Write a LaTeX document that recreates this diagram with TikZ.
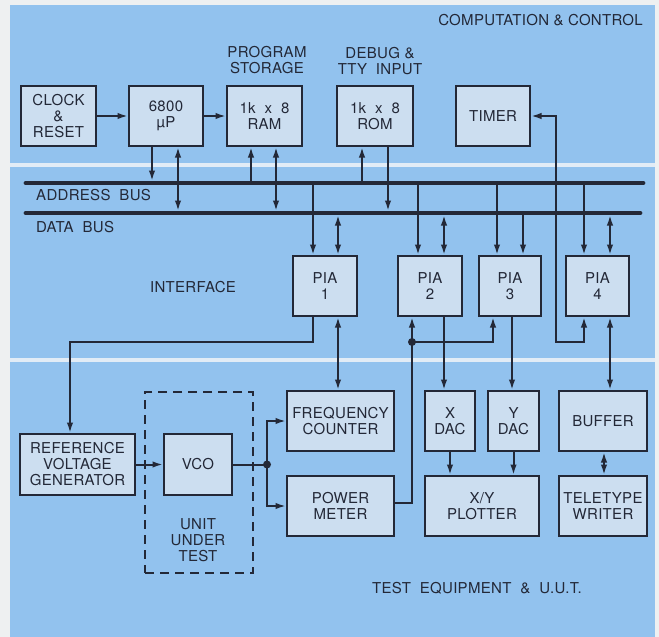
\documentclass[tikz,border=0pt]{standalone}
\usepackage{fontspec}
\setmainfont[LetterSpace=2]{TeX Gyre Heros}
\usetikzlibrary{arrows.meta,calc}
\definecolor{outer}{RGB}{238,240,241}
\definecolor{bgblue}{RGB}{146,194,238}
\definecolor{boxfill}{RGB}{204,222,240}
\definecolor{sepline}{RGB}{226,236,246}
\definecolor{ink}{RGB}{35,40,55}
\newcommand\lblfont{\fontsize{15}{16}\selectfont}
\begin{document}
\begin{tikzpicture}[x=1pt,y=-1pt,
  box/.style={draw=ink, fill=boxfill, line width=2pt, inner sep=0pt, align=center, font=\lblfont, text=ink},
  ln/.style={draw=ink, line width=2pt},
  arr/.style={ln, -{Latex[length=10.5pt,width=6.5pt]}},
  darr/.style={ln, {Latex[length=10.5pt,width=6.5pt]}-{Latex[length=10.5pt,width=6.5pt]}},
  bus/.style={draw=ink, line width=4.8pt, line cap=round},
  lbl/.style={font=\lblfont, text=ink, inner sep=0pt, align=center},
  dot/.style={circle, fill=ink, inner sep=0pt, minimum size=8pt}
]
\useasboundingbox (0,0) rectangle (659,637);
\fill[outer] (0,0) rectangle (659,637);
\fill[bgblue] (10,5) rectangle (655,637);
\fill[sepline] (10,163) rectangle (655,167);
\fill[sepline] (10,358) rectangle (655,362);

% x positions of connectors
\coordinate (cA) at (152,0);
\coordinate (cD) at (178,0);
\coordinate (rA) at (251,0);
\coordinate (rD) at (276,0);
\coordinate (oA) at (362,0);
\coordinate (oD) at (388,0);
\coordinate (p1A) at (313,0);
\coordinate (p1D) at (338,0);
\coordinate (p2A) at (418,0);
\coordinate (p2D) at (444,0);
\coordinate (p2B) at (412,0);
\coordinate (p3A) at (497,0);
\coordinate (p3D) at (523,0);
\coordinate (p3B) at (493,0);
\coordinate (p3Y) at (512,0);
\coordinate (p4A) at (584,0);
\coordinate (p4D) at (610,0);
\coordinate (tX) at (556,0);
\coordinate (refX) at (70,0);
\coordinate (bfX) at (604,0);
\coordinate (lowY) at (0,342);
\coordinate (pmY) at (0,503);

% buses
\coordinate (abL) at (26,183);
\coordinate (abR) at (643,183);
\coordinate (dbL) at (26,213);
\coordinate (dbR) at (640,213);
\draw[bus] (abL) -- (abR);
\draw[bus] (dbL) -- (dbR);

% top boxes
\node[box, minimum width=75pt, minimum height=60pt] (clock) at (58.5,116) {CLOCK\\\&\\RESET};
\node[box, minimum width=74pt, minimum height=60pt] (cpu) at (166,116) {6800\\µP};
\node[box, minimum width=75pt, minimum height=60pt] (ram) at (264.5,116) {1k~~x~~8\\RAM};
\node[box, minimum width=76pt, minimum height=60pt] (rom) at (375,116) {1k~~x~~8\\ROM};
\node[box, minimum width=74pt, minimum height=60pt] (timer) at (493,116) {TIMER};

% PIAs
\node[box, minimum width=64pt, minimum height=60pt] (pia1) at (325,286) {PIA\\1};
\node[box, minimum width=64pt, minimum height=60pt] (pia2) at (430,286) {PIA\\2};
\node[box, minimum width=62pt, minimum height=60pt] (pia3) at (510,286) {PIA\\3};
\node[box, minimum width=63pt, minimum height=60pt] (pia4) at (597.5,286) {PIA\\4};

% bottom
\node[draw=ink, line width=2pt, dash pattern=on 9pt off 6pt, minimum width=108pt, minimum height=181pt, inner sep=0pt] (uut) at (199,482.5) {};
\node[box, minimum width=115pt, minimum height=61pt] (ref) at (77.5,464.5) {REFERENCE\\VOLTAGE\\GENERATOR};
\node[box, minimum width=68pt, minimum height=61pt] (vco) at (198,464.5) {VCO};
\node[box, minimum width=107pt, minimum height=60pt] (freq) at (340.5,421) {FREQUENCY\\COUNTER};
\node[box, minimum width=107pt, minimum height=60pt] (power) at (340.5,506) {POWER\\METER};
\node[box, minimum width=50pt, minimum height=60pt] (xdac) at (450,421) {X\\DAC};
\node[box, minimum width=51pt, minimum height=60pt] (ydac) at (513.5,421) {Y\\DAC};
\node[box, minimum width=114pt, minimum height=60pt] (plotter) at (482,506) {X/Y\\PLOTTER};
\node[box, minimum width=88pt, minimum height=60pt] (buffer) at (603,421) {BUFFER};
\node[box, minimum width=88pt, minimum height=60pt] (tty) at (603,506) {TELETYPE\\WRITER};

% labels
\node[lbl, anchor=east] (cc) at (643,20) {COMPUTATION \& CONTROL};
\node[lbl] (ps) at (267,60) {PROGRAM\\STORAGE};
\node[lbl] (dbg) at (380,61) {DEBUG \&\\TTY~~INPUT};
\node[lbl, anchor=west] (ab) at (36,195) {ADDRESS~~BUS};
\node[lbl, anchor=west] (db) at (36,227) {DATA~~BUS};
\node[lbl] (ifc) at (193,287) {INTERFACE};
\node[lbl] (uutl) at (198,540) {UNIT\\UNDER\\TEST};
\node[lbl] (te) at (477,588) {TEST~~EQUIPMENT~~\&~~U.U.T.};

% top connectors
\draw[arr] (clock.east) -- (clock.east -| cpu.west);
\draw[arr] (cpu.east) -- (ram.west);
\draw[arr, shorten >=2pt] (cpu.south -| cA) -- (abL -| cA);
\draw[darr, shorten >=2pt] (cpu.south -| cD) -- (dbL -| cD);
\draw[arr, shorten <=2pt] (abL -| rA) -- (ram.south -| rA);
\draw[darr, shorten >=2pt] (ram.south -| rD) -- (dbL -| rD);
\draw[arr, shorten <=2pt] (abL -| oA) -- (rom.south -| oA);
\draw[arr, shorten >=2pt] (rom.south -| oD) -- (dbL -| oD);

% bus to PIAs
\draw[arr] (abL -| p1A) -- (pia1.north -| p1A);
\draw[darr, shorten <=2pt] (dbL -| p1D) -- (pia1.north -| p1D);
\draw[arr] (abL -| p2A) -- (pia2.north -| p2A);
\draw[darr, shorten <=2pt] (dbL -| p2D) -- (pia2.north -| p2D);
\draw[arr] (abL -| p3A) -- (pia3.north -| p3A);
\draw[arr] (dbL -| p3D) -- (pia3.north -| p3D);
\draw[arr] (abL -| p4A) -- (pia4.north -| p4A);
\draw[darr, shorten <=2pt] (dbL -| p4D) -- (pia4.north -| p4D);

% timer loop
\draw[darr] (pia4.south -| p4A) -- (lowY -| p4A) -- (lowY -| tX) -- (timer.east -| tX) -- (timer.east);

% PIA outputs
\draw[arr] (pia1.south -| p1A) -- (lowY -| p1A) -- (lowY -| refX) -- (ref.north -| refX);
\draw[darr] (pia1.south -| p1D) -- (freq.north -| p1D);
\node[dot] (j1) at (lowY -| p2B) {};
\draw[arr] (pmY -| power.east) -- (pmY -| p2B) -- (pia2.south -| p2B);
\draw[arr] (j1.center) -- (lowY -| p3B) -- (pia3.south -| p3B);
\draw[arr] (pia2.south -| p2D) -- (xdac.north -| p2D);
\draw[arr] (pia3.south -| p3Y) -- (ydac.north -| p3Y);
\draw[darr] (pia4.south -| p4D) -- (buffer.north -| p4D);
\draw[darr] (buffer.south -| bfX) -- (tty.north -| bfX);
\draw[arr] (xdac.south) -- (plotter.north -| xdac.south);
\draw[arr] (ydac.south) -- (plotter.north -| ydac.south);

% test chain
\draw[arr] (ref.east) -- (vco.west);
\node[dot] (j2) at (267,464.5) {};
\draw[ln] (vco.east) -- (j2.center);
\draw[arr] (j2.center) |- (freq.west);
\draw[arr] (j2.center) |- (power.west);
\end{tikzpicture}
\end{document}
